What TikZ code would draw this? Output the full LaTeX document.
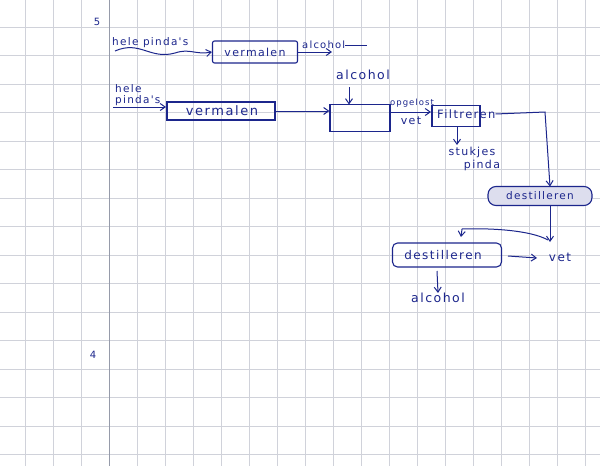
\documentclass[tikz,border=0pt]{standalone}
\usepackage{fontspec}
\newfontfamily\hand[LetterSpace=12]{DejaVu Sans}
\usetikzlibrary{arrows.meta,calc}
\definecolor{ink}{RGB}{28,38,140}
\definecolor{gridc}{RGB}{208,210,218}
\definecolor{marginc}{RGB}{150,155,170}
\tikzset{
  txt/.style={inner sep=0pt, text=ink, font=\hand\fontsize{11}{12}\selectfont},
  procbox/.style={draw=ink, line width=1.1pt, inner sep=0pt},
  flow/.style={draw=ink, line width=1pt, -{Straight Barb[length=5pt,width=7pt]}},
  plain/.style={draw=ink, line width=1pt}
}
\begin{document}
\begin{tikzpicture}[x=1pt,y=-1pt]
\useasboundingbox (0,0) rectangle (600,466);
\fill[white] (0,0) rectangle (600,466);
% grid paper
\foreach \i in {0,...,21} {\draw[gridc, line width=0.5pt] ({-3+28*\i},0) -- ({-3+28*\i},466);}
\foreach \j in {0,...,16} {\draw[gridc, line width=0.5pt] (0,{-1.5+28.5*\j}) -- (600,{-1.5+28.5*\j});}
\draw[marginc, line width=0.7pt] (109,0) -- (109,466);

% numbers
\node[txt, font=\hand\fontsize{10}{12}\selectfont] (n5) at (97,22) {5};
\node[txt, font=\hand\fontsize{10}{12}\selectfont] (n4) at (93,355) {4};

% row 1
\node[txt, anchor=west, font=\hand\fontsize{10.5}{12}\selectfont] (hp1) at (112,43) {hele pinda's};
\node[procbox, minimum width=85pt, minimum height=22pt, rounded corners=2pt] (vm1) at (255,52) {};
\node[txt, font=\hand\fontsize{11}{12}\selectfont] (vm1t) at (255,52) {vermalen};
\coordinate (w1) at (115,51);
\draw[flow] (w1) .. controls (140,40) and (150,60) .. (175,53) .. controls (190,48) and (195,55) .. (vm1.west);
\node[txt, anchor=west, font=\hand\fontsize{10}{12}\selectfont] (al1) at (302,45) {alcohol};
\coordinate (a1e) at (332,52);
\coordinate (l1e) at (367,45);
\draw[flow] (vm1.east) -- (a1e);
\draw[plain] (al1.east) -- (l1e);

% row 2
\node[txt, anchor=west, align=left, font=\hand\fontsize{10.5}{11}\selectfont] (hp2) at (115,95) {hele\\pinda's};
\coordinate (hs) at (113,107);
\coordinate (he) at (166,107);
\node[procbox, minimum width=108pt, minimum height=18pt] (vm2) at (221,111) {};
\node[txt, font=\hand\fontsize{13}{14}\selectfont] (vm2t) at (222,111) {vermalen};
\draw[flow] (hs) -- (he);
\node[procbox, minimum width=60pt, minimum height=27pt] (mix) at (360,118) {};
\draw[flow] (vm2.east) -- (mix.west |- vm2.east);
\node[txt, font=\hand\fontsize{12.5}{13}\selectfont] (al2) at (363,75) {alcohol};
\coordinate (a2s) at (349,87);
\coordinate (a2e) at (349,104.5);
\draw[flow] (a2s) -- (a2e);

\node[txt, font=\hand\fontsize{8.5}{9}\selectfont] (opg) at (412,103) {opgelost};
\node[txt, font=\hand\fontsize{11}{11}\selectfont] (vet1) at (411,121) {vet};
\node[procbox, minimum width=48pt, minimum height=21pt] (filt) at (456,116) {};
\node[txt, anchor=west, font=\hand\fontsize{11.5}{12}\selectfont] (filtt) at (437,114) {Filtreren};
\coordinate (o1) at (390,112);
\coordinate (o2) at (431,112);
\draw[flow] (o1) -- (o2);

\node[txt, align=center, font=\hand\fontsize{11}{13}\selectfont] (stuk) at (472,159) {stukjes\\\hspace*{20pt}pinda};
\coordinate (s1) at (457,127);
\coordinate (s2) at (457,145);
\draw[flow] (s1) -- (s2);

\node[procbox, fill=ink!15, rounded corners=8pt, minimum width=104pt, minimum height=19pt] (dest1) at (540,196) {};
\node[txt, font=\hand\fontsize{10.5}{11}\selectfont] (dest1t) at (540,196) {destilleren};
\coordinate (c1) at (545,112);
\coordinate (c2) at (550,186.5);
\coordinate (c3) at (550,205.5);
\draw[flow] (filtt.east) -- (c1) -- (c2);
\coordinate (vj) at (550,242);
\draw[flow] (c3) -- (vj);

\node[procbox, rounded corners=5pt, minimum width=109pt, minimum height=24pt] (dest2) at (447,255) {};
\node[txt, font=\hand\fontsize{12}{12}\selectfont] (dest2t) at (443,255) {destilleren};
\coordinate (b1) at (548,240);
\coordinate (b2) at (461,237);
\draw[flow] (b1) .. controls (530,230) and (490,228) .. (462,229) -- (b2);

\node[txt, font=\hand\fontsize{12}{12}\selectfont] (vet2) at (560,257) {vet};
\coordinate (d1) at (508,256);
\coordinate (d2e) at (537,258);
\draw[flow] (d1) -- (d2e);
\node[txt, font=\hand\fontsize{12.5}{13}\selectfont] (al3) at (438,298) {alcohol};
\coordinate (d2) at (437,271);
\draw[flow] (d2) -- (al3.north);
\end{tikzpicture}
\end{document}
